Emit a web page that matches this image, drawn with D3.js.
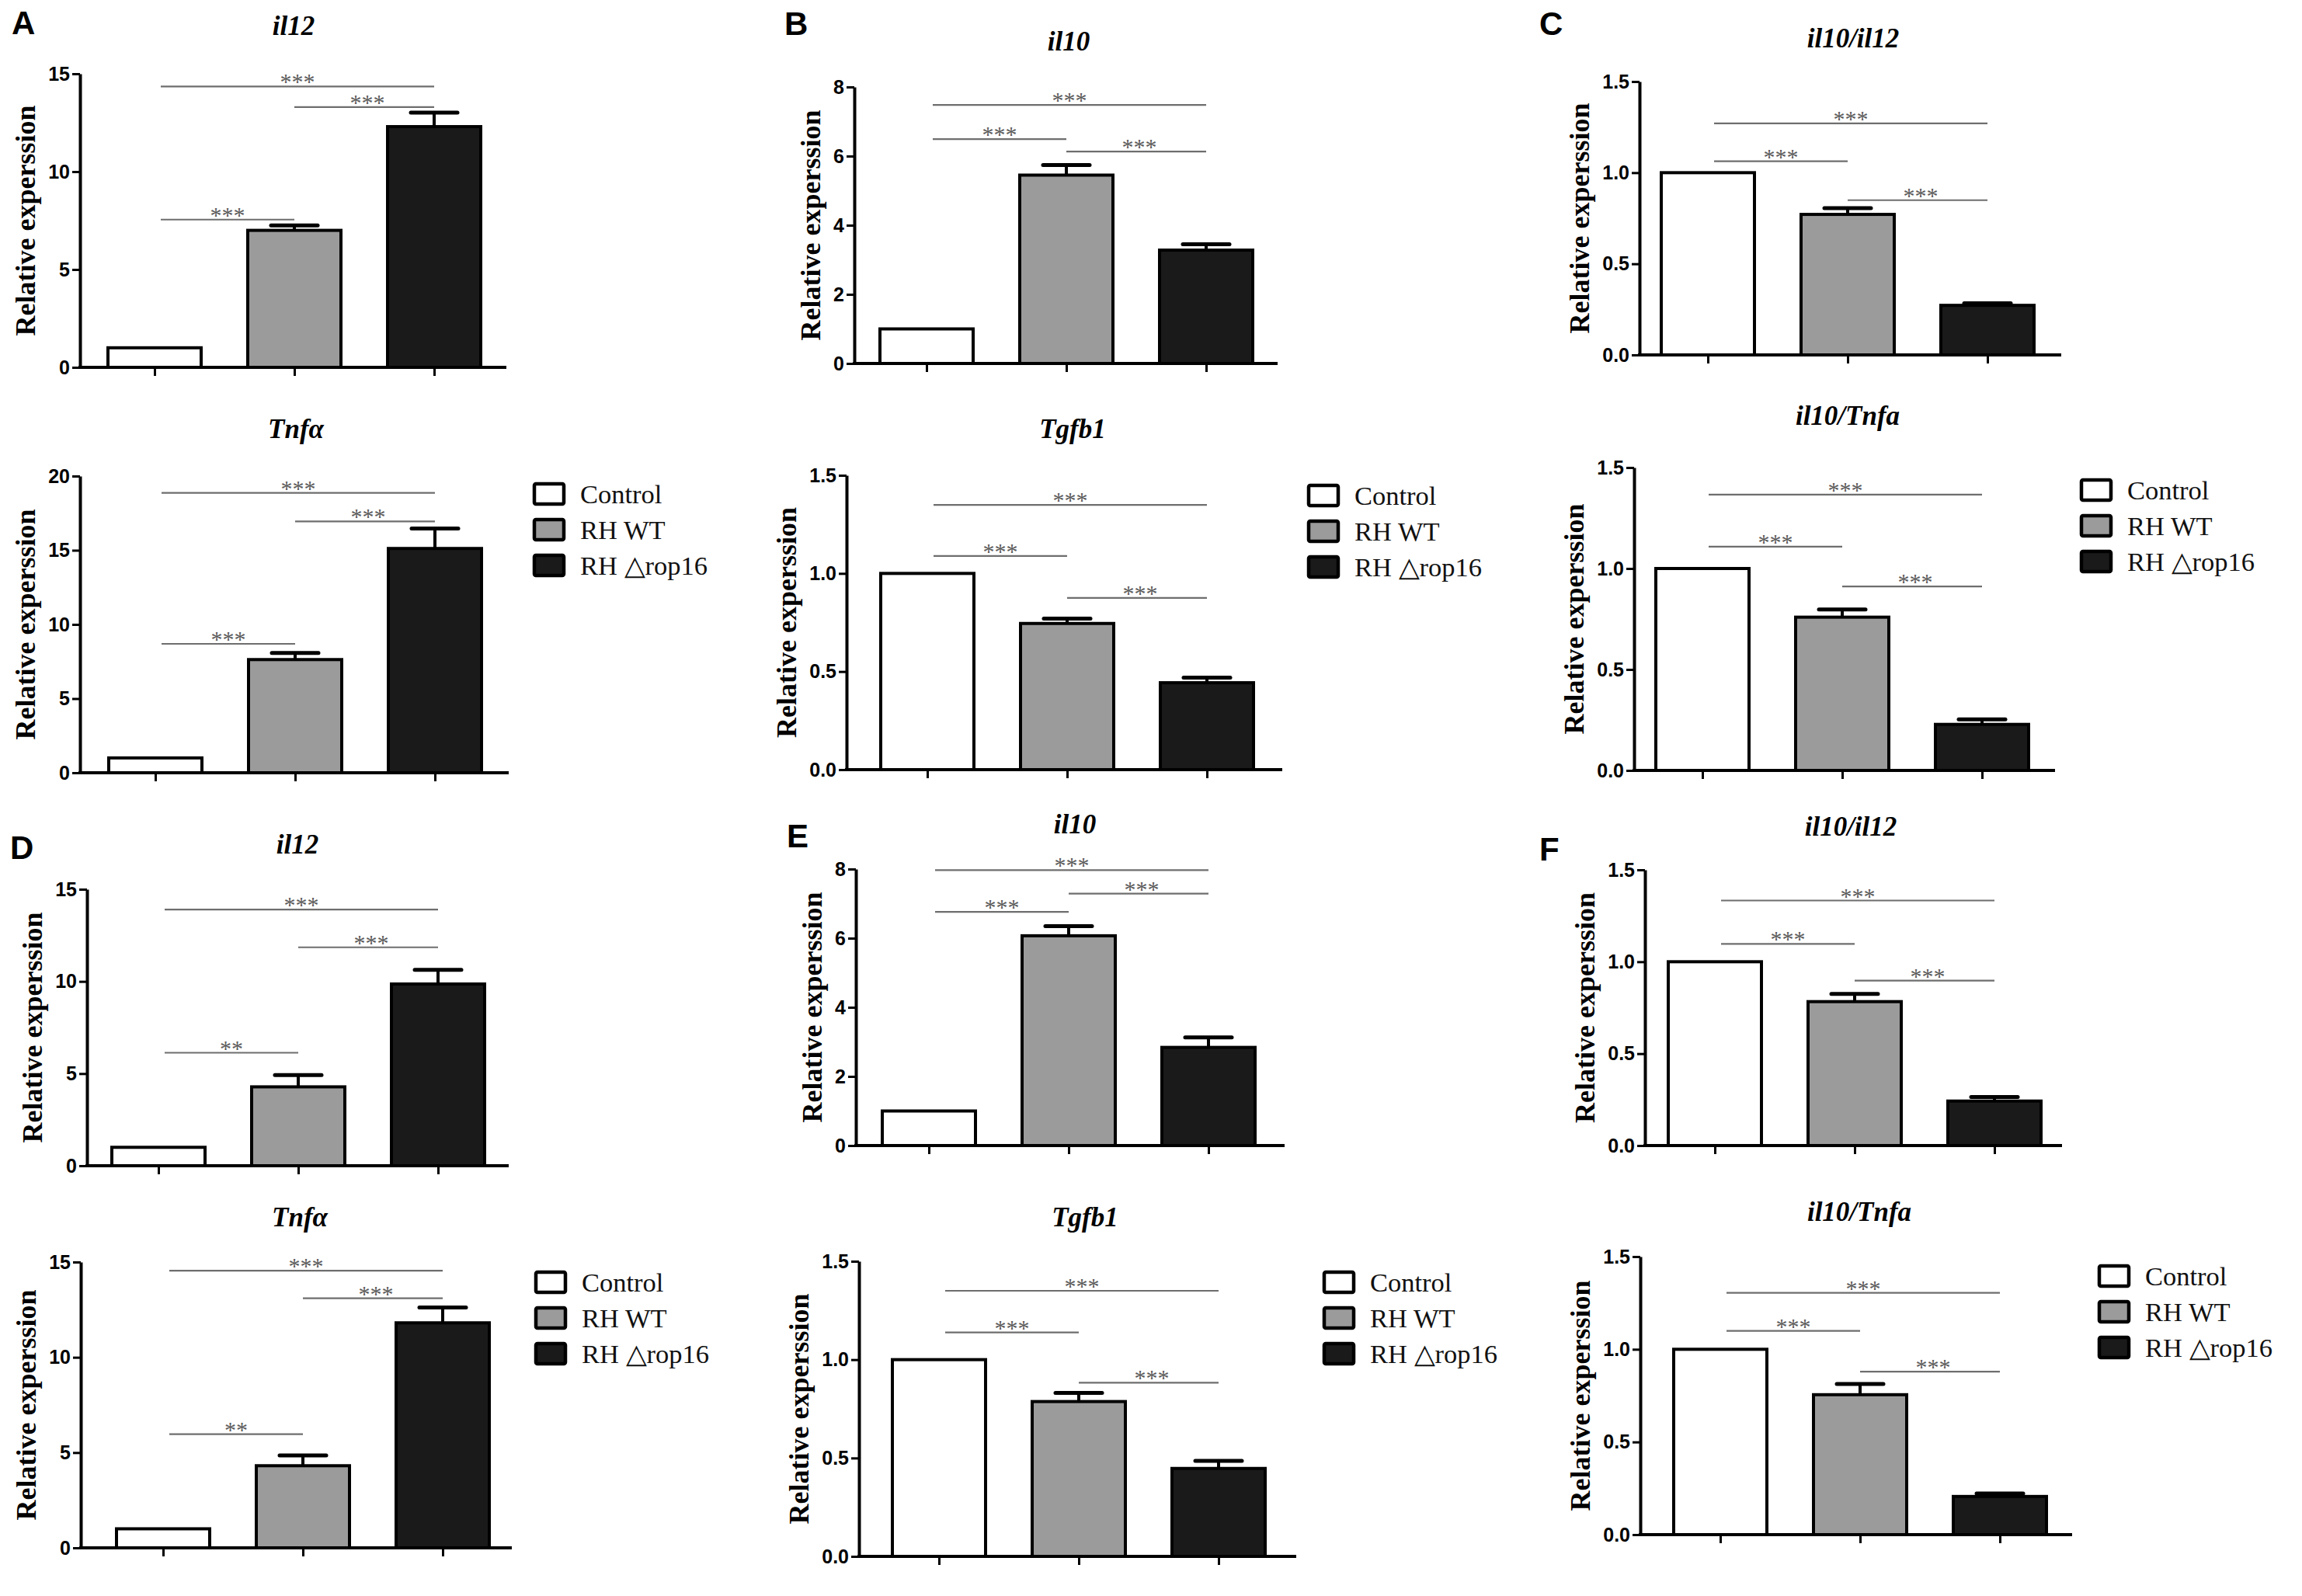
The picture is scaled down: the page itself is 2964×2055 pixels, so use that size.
<!DOCTYPE html>
<html>
<head>
<meta charset="utf-8">
<script src="https://cdn.jsdelivr.net/npm/d3@7"></script>
<style>
  body { margin: 0; background: #fff; }
  svg { display: block; }
</style>
</head>
<body>
<svg id="fig" width="2964" height="2055"></svg>
<script>
// --- data ---
const groups = ["Control", "RH WT", "RH △rop16"];
const panels = ["A", "B", "C", "D", "E", "F"];

const ticks15 = [0, 5, 10, 15];
const ticks20 = [0, 5, 10, 15, 20];
const ticks8 = [0, 2, 4, 6, 8];
const ticksRatio = [0, 0.5, 1.0, 1.5];

// sig rows: [from group, to group, bracket height (data units), label]
const il12A = [1.0, 7.0, 12.3];
const il12A_sem = [0, 0.25, 0.72];
const il12A_sig = [[0, 2, 14.35, "***"], [1, 2, 13.3, "***"], [0, 1, 7.55, "***"]];

const tnfA = [1.0, 7.63, 15.12];
const tnfA_sem = [0, 0.45, 1.34];
const tnfA_sig = [[0, 2, 18.87, "***"], [1, 2, 16.94, "***"], [0, 1, 8.69, "***"]];

const il10B = [1.0, 5.45, 3.28];
const il10B_sem = [0, 0.29, 0.17];
const il10B_sig = [[0, 2, 7.48, "***"], [0, 1, 6.49, "***"], [1, 2, 6.13, "***"]];

const tgfb1B = [1.0, 0.745, 0.443];
const tgfb1B_sem = [0, 0.025, 0.026];
const tgfb1B_sig = [[0, 2, 1.349, "***"], [0, 1, 1.089, "***"], [1, 2, 0.875, "***"]];

const ratio12C = [1.0, 0.771, 0.272];
const ratio12C_sem = [0, 0.034, 0.011];
const ratio12C_sig = [[0, 2, 1.27, "***"], [0, 1, 1.063, "***"], [1, 2, 0.849, "***"]];

const ratioTnfC = [1.0, 0.759, 0.228];
const ratioTnfC_sem = [0, 0.038, 0.025];
const ratioTnfC_sig = [[0, 2, 1.366, "***"], [0, 1, 1.108, "***"], [1, 2, 0.911, "***"]];

const il12D = [1.0, 4.28, 9.86];
const il12D_sem = [0, 0.64, 0.77];
const il12D_sig = [[0, 2, 13.9, "***"], [1, 2, 11.85, "***"], [0, 1, 6.13, "**"]];

const tnfD = [1.0, 4.31, 11.81];
const tnfD_sem = [0, 0.54, 0.81];
const tnfD_sig = [[0, 2, 14.55, "***"], [1, 2, 13.1, "***"], [0, 1, 5.97, "**"]];

const il10E = [1.0, 6.07, 2.84];
const il10E_sem = [0, 0.28, 0.29];
const il10E_sig = [[0, 2, 7.97, "***"], [1, 2, 7.29, "***"], [0, 1, 6.76, "***"]];

const tgfb1E = [1.0, 0.787, 0.447];
const tgfb1E_sem = [0, 0.044, 0.039];
const tgfb1E_sig = [[0, 2, 1.35, "***"], [0, 1, 1.138, "***"], [1, 2, 0.883, "***"]];

const ratio12F = [1.0, 0.783, 0.242];
const ratio12F_sem = [0, 0.042, 0.022];
const ratio12F_sig = [[0, 2, 1.333, "***"], [0, 1, 1.097, "***"], [1, 2, 0.897, "***"]];

const ratioTnfF = [1.0, 0.755, 0.206];
const ratioTnfF_sem = [0, 0.058, 0.016];
const ratioTnfF_sig = [[0, 2, 1.305, "***"], [0, 1, 1.099, "***"], [1, 2, 0.879, "***"]];

// --- styles ---
const groupFill = ["#ffffff", "#9b9b9b", "#1a1a1a"];
const SANS = "'Liberation Sans', Arial, sans-serif";
const SERIF = "'Liberation Serif', 'Times New Roman', serif";
const BAR_W = 120, CAP_W = 60, STEP = 180;
const fmtInt = d3.format("d"), fmtDec = d3.format(".1f");

// --- chart table: data + placement on the sheet ---
const charts = [
  { title: "il12", mean: il12A, sem: il12A_sem, sig: il12A_sig, yMax: 15, ticks: ticks15, fmt: fmtInt,
    axisX: 103, c1: 199, top: 95, bot: 473, end: 652, tx: 378, ty: 33 },
  { title: "Tnfα", mean: tnfA, sem: tnfA_sem, sig: tnfA_sig, yMax: 20, ticks: ticks20, fmt: fmtInt,
    axisX: 103, c1: 200, top: 613, bot: 995, end: 655, tx: 381, ty: 552 },
  { title: "il10", mean: il10B, sem: il10B_sem, sig: il10B_sig, yMax: 8, ticks: ticks8, fmt: fmtInt,
    axisX: 1100, c1: 1193, top: 112, bot: 468, end: 1645, tx: 1376, ty: 53 },
  { title: "Tgfb1", mean: tgfb1B, sem: tgfb1B_sem, sig: tgfb1B_sig, yMax: 1.5, ticks: ticksRatio, fmt: fmtDec,
    axisX: 1090, c1: 1194, top: 612, bot: 991, end: 1651, tx: 1381, ty: 552 },
  { title: "il10/il12", mean: ratio12C, sem: ratio12C_sem, sig: ratio12C_sig, yMax: 1.5, ticks: ticksRatio, fmt: fmtDec,
    axisX: 2111, c1: 2199, top: 105, bot: 457, end: 2654, tx: 2386, ty: 49 },
  { title: "il10/Tnfa", mean: ratioTnfC, sem: ratioTnfC_sem, sig: ratioTnfC_sig, yMax: 1.5, ticks: ticksRatio, fmt: fmtDec,
    axisX: 2104, c1: 2192, top: 602, bot: 992, end: 2646, tx: 2379, ty: 535 },
  { title: "il12", mean: il12D, sem: il12D_sem, sig: il12D_sig, yMax: 15, ticks: ticks15, fmt: fmtInt,
    axisX: 112, c1: 204, top: 1145, bot: 1501, end: 655, tx: 383, ty: 1087 },
  { title: "Tnfα", mean: tnfD, sem: tnfD_sem, sig: tnfD_sig, yMax: 15, ticks: ticks15, fmt: fmtInt,
    axisX: 104, c1: 210, top: 1625, bot: 1993, end: 659, tx: 386, ty: 1567 },
  { title: "il10", mean: il10E, sem: il10E_sem, sig: il10E_sig, yMax: 8, ticks: ticks8, fmt: fmtInt,
    axisX: 1102, c1: 1196, top: 1119, bot: 1475, end: 1654, tx: 1384, ty: 1061 },
  { title: "Tgfb1", mean: tgfb1E, sem: tgfb1E_sem, sig: tgfb1E_sig, yMax: 1.5, ticks: ticksRatio, fmt: fmtDec,
    axisX: 1106, c1: 1209, top: 1624, bot: 2004, end: 1669, tx: 1397, ty: 1567 },
  { title: "il10/il12", mean: ratio12F, sem: ratio12F_sem, sig: ratio12F_sig, yMax: 1.5, ticks: ticksRatio, fmt: fmtDec,
    axisX: 2118, c1: 2208, top: 1120, bot: 1475, end: 2655, tx: 2383, ty: 1064 },
  { title: "il10/Tnfa", mean: ratioTnfF, sem: ratioTnfF_sem, sig: ratioTnfF_sig, yMax: 1.5, ticks: ticksRatio, fmt: fmtDec,
    axisX: 2112, c1: 2215, top: 1618, bot: 1976, end: 2668, tx: 2394, ty: 1560 },
];

// panel letter spots and legend spots
const letterPos = [[15, 44], [1010, 45], [1982, 45], [13, 1106], [1013, 1091], [1982, 1108]];
const legendPos = [[686, 621], [1683, 623], [2678, 616], [688, 1636], [1703, 1636], [2701, 1628]];

const svg = d3.select("#fig");

charts.forEach(ch => {
  const g = svg.append("g");
  const x = d3.scalePoint().domain(groups).range([ch.c1, ch.c1 + 2 * STEP]);
  const y = d3.scaleLinear().domain([0, ch.yMax]).range([ch.bot, ch.top]);

  // bars
  g.selectAll("rect.bar").data(groups).join("rect")
    .attr("class", "bar")
    .attr("x", d => x(d) - BAR_W / 2)
    .attr("width", BAR_W)
    .attr("y", (d, i) => y(ch.mean[i]))
    .attr("height", (d, i) => y(0) - y(ch.mean[i]))
    .attr("fill", (d, i) => groupFill[i])
    .attr("stroke", "#000")
    .attr("stroke-width", 4);

  // error bars (upper only, like the original)
  const eb = groups.map((d, i) => ({ g: d, m: ch.mean[i], s: ch.sem[i] })).filter(d => d.s > 0);
  g.selectAll("line.stem").data(eb).join("line")
    .attr("x1", d => x(d.g)).attr("x2", d => x(d.g))
    .attr("y1", d => y(d.m)).attr("y2", d => y(d.m + d.s))
    .attr("stroke", "#000").attr("stroke-width", 4);
  g.selectAll("line.cap").data(eb).join("line")
    .attr("x1", d => x(d.g) - CAP_W / 2).attr("x2", d => x(d.g) + CAP_W / 2)
    .attr("y1", d => y(d.m + d.s)).attr("y2", d => y(d.m + d.s))
    .attr("stroke", "#000").attr("stroke-width", 5).attr("stroke-linecap", "round");

  // y axis
  const ya = g.append("g")
    .attr("transform", `translate(${ch.axisX},0)`)
    .call(d3.axisLeft(y).tickValues(ch.ticks).tickFormat(ch.fmt)
      .tickSize(10).tickSizeOuter(0).tickPadding(3));
  ya.select(".domain").attr("stroke-width", 4);
  ya.selectAll(".tick line").attr("stroke-width", 3);
  ya.selectAll(".tick text")
    .attr("font-family", SANS).attr("font-size", 25).attr("font-weight", "bold").attr("fill", "#000");

  // x axis: long baseline, unlabeled ticks under each bar
  const xa = g.append("g")
    .attr("transform", `translate(0,${ch.bot})`)
    .call(d3.axisBottom(x).tickFormat("").tickSize(11).tickSizeOuter(0));
  xa.select(".domain").remove();
  xa.selectAll(".tick line").attr("stroke-width", 3);
  g.append("line")
    .attr("x1", ch.axisX - 2).attr("x2", ch.end)
    .attr("y1", ch.bot).attr("y2", ch.bot)
    .attr("stroke", "#000").attr("stroke-width", 4);

  // y label, placed just left of the tick labels
  const bb = ya.node().getBBox();
  const lx = ch.axisX + bb.x - 17;
  g.append("text")
    .attr("transform", `translate(${lx},${(ch.top + ch.bot) / 2}) rotate(-90)`)
    .attr("text-anchor", "middle")
    .attr("font-family", SERIF).attr("font-weight", "bold").attr("font-size", 36)
    .text("Relative experssion");

  // title
  g.append("text")
    .attr("x", ch.tx).attr("y", ch.ty + 12)
    .attr("text-anchor", "middle")
    .attr("font-family", SERIF).attr("font-weight", "bold").attr("font-style", "italic")
    .attr("font-size", 35)
    .text(ch.title);

  // significance brackets
  const sg = g.selectAll("g.sig").data(ch.sig).join("g").attr("class", "sig");
  sg.append("line")
    .attr("x1", d => x(groups[d[0]]) + (d[0] === 0 ? 8 : 0))
    .attr("x2", d => x(groups[d[1]]))
    .attr("y1", d => y(d[2])).attr("y2", d => y(d[2]))
    .attr("stroke", "#6e6e6e").attr("stroke-width", 2.2);
  sg.append("text")
    .attr("x", d => (x(groups[d[0]]) + x(groups[d[1]])) / 2 + 4)
    .attr("y", d => y(d[2]) + 4)
    .attr("text-anchor", "middle")
    .attr("font-family", SERIF).attr("font-size", 30).attr("fill", "#5a5a5a")
    .text(d => d[3]);
});

// panel letters
svg.selectAll("text.letter").data(panels).join("text")
  .attr("class", "letter")
  .attr("x", (d, i) => letterPos[i][0]).attr("y", (d, i) => letterPos[i][1])
  .attr("font-family", SANS).attr("font-weight", "bold").attr("font-size", 42)
  .text(d => d);

// legends
legendPos.forEach(([lx, ly]) => {
  const lg = svg.append("g").attr("transform", `translate(${lx},${ly})`);
  const row = lg.selectAll("g").data(groups).join("g")
    .attr("transform", (d, i) => `translate(0,${i * 46})`);
  row.append("rect")
    .attr("x", 2).attr("y", 2).attr("width", 38).attr("height", 26).attr("rx", 2)
    .attr("fill", (d, i) => groupFill[i]).attr("stroke", "#000").attr("stroke-width", 4.5);
  row.append("text")
    .attr("x", 61).attr("y", 15 + 11.5)
    .attr("font-family", SERIF).attr("font-size", 34.5).attr("fill", "#111")
    .text(d => d);
});
</script>
</body>
</html>
